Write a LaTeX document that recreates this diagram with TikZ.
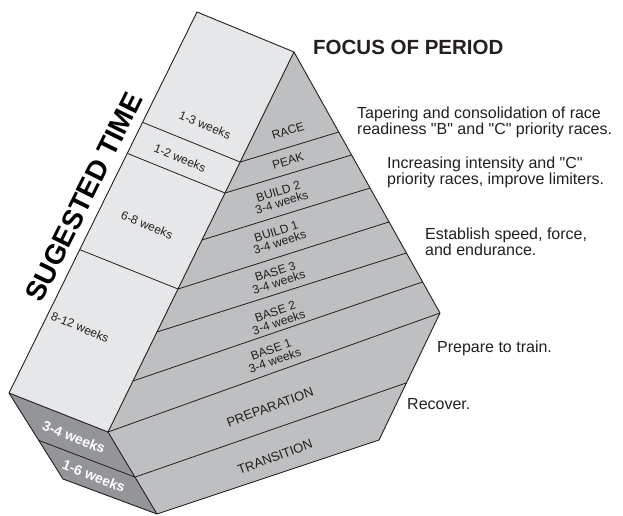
\documentclass[tikz,border=0pt]{standalone}
\usepackage{fontspec}
\setmainfont{Liberation Sans}
\usetikzlibrary{calc}
\definecolor{lightface}{HTML}{E6E7E8}
\definecolor{midface}{HTML}{BEBFC1}
\definecolor{darkface}{HTML}{939598}
\definecolor{ink}{HTML}{231F20}
\tikzset{
  edge/.style={draw=ink, line width=0.9pt, line join=round},
  divider/.style={draw=ink, line width=0.8pt},
  facelabel/.style={inner sep=0pt, text=ink, align=center, font=\fontsize{12}{11.5}\selectfont},
  biglabel/.style={facelabel, font=\fontsize{13}{13}\selectfont},
  darklabel/.style={inner sep=0pt, text=white, font=\bfseries\fontsize{14}{14}\selectfont},
  focus/.style={inner sep=0pt, anchor=base west, align=left, text=ink, font=\fontsize{16}{12.8}\selectfont},
}
\begin{document}
\begin{tikzpicture}[x=1pt, y=-1pt]
\useasboundingbox (0,0) rectangle (623,515);
% vertices
\coordinate (A) at (197,12);
\coordinate (P) at (294,52);
\coordinate (R) at (440,313);
\coordinate (BR) at (379,440);
\coordinate (B) at (157,514);
\coordinate (M) at (108,432);
\coordinate (L) at (9,393);
\coordinate (Ld) at (63,479);
% faces
\fill[lightface] (A) -- (P) -- (M) -- (L) -- cycle;
\fill[midface] (P) -- (R) -- (BR) -- (B) -- (M) -- cycle;
\fill[darkface] (L) -- (M) -- (B) -- (Ld) -- cycle;
% light face dividers
\foreach \v in {0.2895, 0.371, 0.6237}
  \draw[divider] ($(A)!\v!(L)$) -- ($(P)!\v!(M)$);
% mid face dividers
\foreach \v/\u in {0.2895/0.3065, 0.371/0.3946, 0.4947/0.521, 0.6237/0.651, 0.7368/0.770, 0.8658/0.881}
  \draw[divider] ($(P)!\v!(M)$) -- ($(P)!\u!(R)$);
\draw[divider] (M) -- (R);
\draw[divider] ($(M)!0.55!(B)$) -- ($(R)!0.55!(BR)$);
% dark face divider
\draw[divider] ($(L)!0.55!(Ld)$) -- ($(M)!0.55!(B)$);
% outlines
\draw[edge] (A) -- (P) -- (R) -- (BR) -- (B) -- (Ld) -- (L) -- cycle;
\draw[edge] (P) -- (M) -- (B);
\draw[edge] (L) -- (M);
% light face labels
\node[facelabel, rotate=-22.4] (w13) at (205,125) {1-3 weeks};
\node[facelabel, rotate=-22.4] (w12) at (180,158) {1-2 weeks};
\node[facelabel, rotate=-22.4] (w68) at (147,225) {6-8 weeks};
\node[facelabel, rotate=-22.4] (w812) at (80,327) {8-12 weeks};
% mid face labels
\node[facelabel, rotate=17] (race) at (288,131) {RACE};
\node[facelabel, rotate=17] (peak) at (288,161) {PEAK};
\node[facelabel, rotate=17.5] (build2) at (280,197) {BUILD 2\\3-4 weeks};
\node[facelabel, rotate=18] (build1) at (278,237) {BUILD 1\\3-4 weeks};
\node[facelabel, rotate=18] (base3) at (277,277) {BASE 3\\3-4 weeks};
\node[facelabel, rotate=18.5] (base2) at (277,317) {BASE 2\\3-4 weeks};
\node[facelabel, rotate=19.5] (base1) at (273,355) {BASE 1\\3-4 weeks};
\node[biglabel, rotate=20.5] (prep) at (270,407) {PREPARATION};
\node[biglabel, rotate=20.5] (trans) at (275,457) {TRANSITION};
% dark face labels
\node[darklabel, rotate=-21.5] (d34) at (74,437) {3-4 weeks};
\node[darklabel, rotate=-21.5] (d16) at (94,476) {1-6 weeks};
% side title
\node[inner sep=0pt, text=black, rotate=63.7, font=\bfseries\fontsize{28}{28}\selectfont] (sug) at (84,197) {SUGESTED TIME};
% right texts
\node[inner sep=0pt, anchor=base west, text=ink, font=\bfseries\fontsize{20.5}{20}\selectfont] (focus) at (313,54) {FOCUS OF PERIOD};
\node[focus] (t1) at (357,134) {Tapering and consolidation of race\\readiness \textquotedbl B\textquotedbl{} and \textquotedbl C\textquotedbl{} priority races.};
\node[focus] (t2) at (387,184) {Increasing intensity and \textquotedbl C\textquotedbl\\priority races, improve limiters.};
\node[focus] (t3) at (425,255.5) {Establish speed, force,\\and endurance.};
\node[focus] (t4) at (437,352) {Prepare to train.};
\node[focus] (t5) at (407,409) {Recover.};
\end{tikzpicture}
\end{document}
